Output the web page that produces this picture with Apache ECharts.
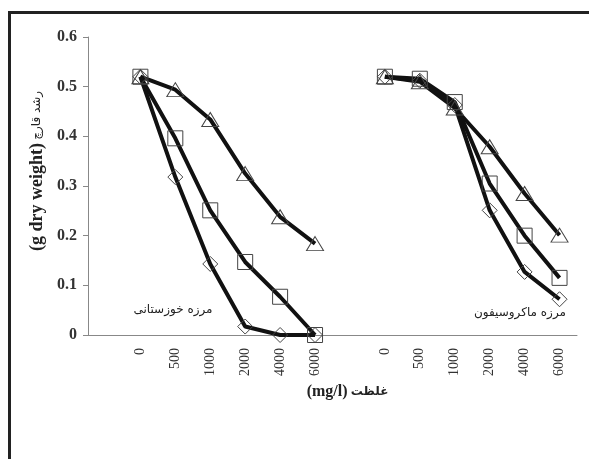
<!DOCTYPE html>
<html>
<head>
<meta charset="utf-8">
<script src="https://cdn.jsdelivr.net/npm/echarts@6/dist/echarts.min.js"></script>
<style>
  html, body { margin: 0; padding: 0; background: #fff; }
  #chart { width: 589px; height: 459px; }
</style>
</head>
<body>
<div id="chart"></div>
<script>
// x categories: blank slot, group 1, blank slot, group 2
const categories = ['', '0', '500', '1000', '2000', '4000', '6000', '', '0', '500', '1000', '2000', '4000', '6000'];
const yTicks = [0, 0.1, 0.2, 0.3, 0.4, 0.5, 0.6];

// مرزه خوزستانی
const khuzTriangle = [0.52, 0.494, 0.434, 0.325, 0.238, 0.184];
const khuzSquare = [0.52, 0.396, 0.251, 0.147, 0.077, 0];
const khuzDiamond = [0.52, 0.318, 0.143, 0.017, 0, 0];

// مرزه ماکروسیفون
const macroTriangle = [0.52, 0.51, 0.457, 0.379, 0.285, 0.201];
const macroSquare = [0.52, 0.516, 0.469, 0.305, 0.2, 0.115];
const macroDiamond = [0.52, 0.512, 0.463, 0.251, 0.127, 0.072];

const groupLabels = ['مرزه خوزستانی', 'مرزه ماکروسیفون'];

const serif = 'Liberation Serif';
const arabicFont = 'DejaVu Sans';

// join both groups with a gap in between
function joinGroups(a, b) {
  return [null].concat(a, [null], b);
}

const markerStyle = {
  color: 'rgba(255,255,255,0)',
  borderColor: '#444',
  borderWidth: 1,
};

function makeSeries(name, symbol, size, g1, g2) {
  return {
    name: name,
    type: 'line',
    symbol: symbol,
    symbolSize: size,
    showAllSymbol: true,
    connectNulls: false,
    data: joinGroups(g1, g2),
    lineStyle: { color: '#111', width: 4 },
    itemStyle: markerStyle,
    emphasis: { disabled: true },
    z: 3,
  };
}

const mychart = echarts.init(document.getElementById('chart'));

const option = {
  animation: false,
  grid: { left: 88, right: 12, top: 37, bottom: 124 },
  xAxis: {
    type: 'category',
    data: categories,
    boundaryGap: true,
    axisLine: { lineStyle: { color: '#888', width: 1 } },
    axisTick: { show: false },
    axisLabel: {
      interval: 0,
      rotate: 90,
      margin: 13,
      color: '#333',
      fontFamily: serif,
      fontSize: 14,
    },
    name: '{b|(mg/l)} {p|غلظت}',
    nameLocation: 'middle',
    nameGap: 48,
    nameTextStyle: {
      padding: [0, 0, 0, 30],
      rich: {
        b: { fontFamily: serif, fontWeight: 'bold', fontSize: 16, color: '#222' },
        p: { fontFamily: arabicFont, fontWeight: 'bold', fontSize: 12, color: '#222' },
      },
    },
  },
  yAxis: {
    type: 'value',
    min: 0,
    max: 0.6,
    interval: 0.1,
    axisLine: { show: true, lineStyle: { color: '#888', width: 1 } },
    axisTick: { show: true, length: 5, lineStyle: { color: '#888' } },
    splitLine: { show: false },
    axisLabel: {
      margin: 11,
      color: '#333',
      fontFamily: serif,
      fontWeight: 'bold',
      fontSize: 16,
      formatter: (v) => (yTicks.indexOf(v) === 0 ? '0' : v.toFixed(1)),
    },
    name: '{b|(g dry weight)} {p|رشد قارچ}',
    nameLocation: 'middle',
    nameGap: 42,
    nameRotate: 90,
    nameTextStyle: {
      padding: [0, 0, 0, 30],
      rich: {
        b: { fontFamily: serif, fontWeight: 'bold', fontSize: 18, color: '#222' },
        p: { fontFamily: arabicFont, fontSize: 12, color: '#222' },
      },
    },
  },
  series: [
    makeSeries('triangle', 'triangle', [17, 14], khuzTriangle, macroTriangle),
    makeSeries('square', 'rect', [15, 15], khuzSquare, macroSquare),
    makeSeries('diamond', 'diamond', [15, 15], khuzDiamond, macroDiamond),
  ],
  graphic: [
    {
      type: 'rect',
      shape: { x: 9.5, y: 12.5, width: 620, height: 500 },
      style: { fill: 'none', stroke: '#222', lineWidth: 3 },
      silent: true,
      z: 10,
    },
    {
      type: 'text',
      x: 173,
      y: 310,
      style: {
        text: groupLabels[0],
        fontFamily: arabicFont,
        fontSize: 12,
        fill: '#222',
        align: 'center',
        verticalAlign: 'middle',
      },
    },
    {
      type: 'text',
      x: 520,
      y: 313,
      style: {
        text: groupLabels[1],
        fontFamily: arabicFont,
        fontSize: 12,
        fill: '#222',
        align: 'center',
        verticalAlign: 'middle',
      },
    },
  ],
};

mychart.setOption(option);

window.addEventListener('resize', () => {
  mychart.resize();
});
</script>
</body>
</html>
